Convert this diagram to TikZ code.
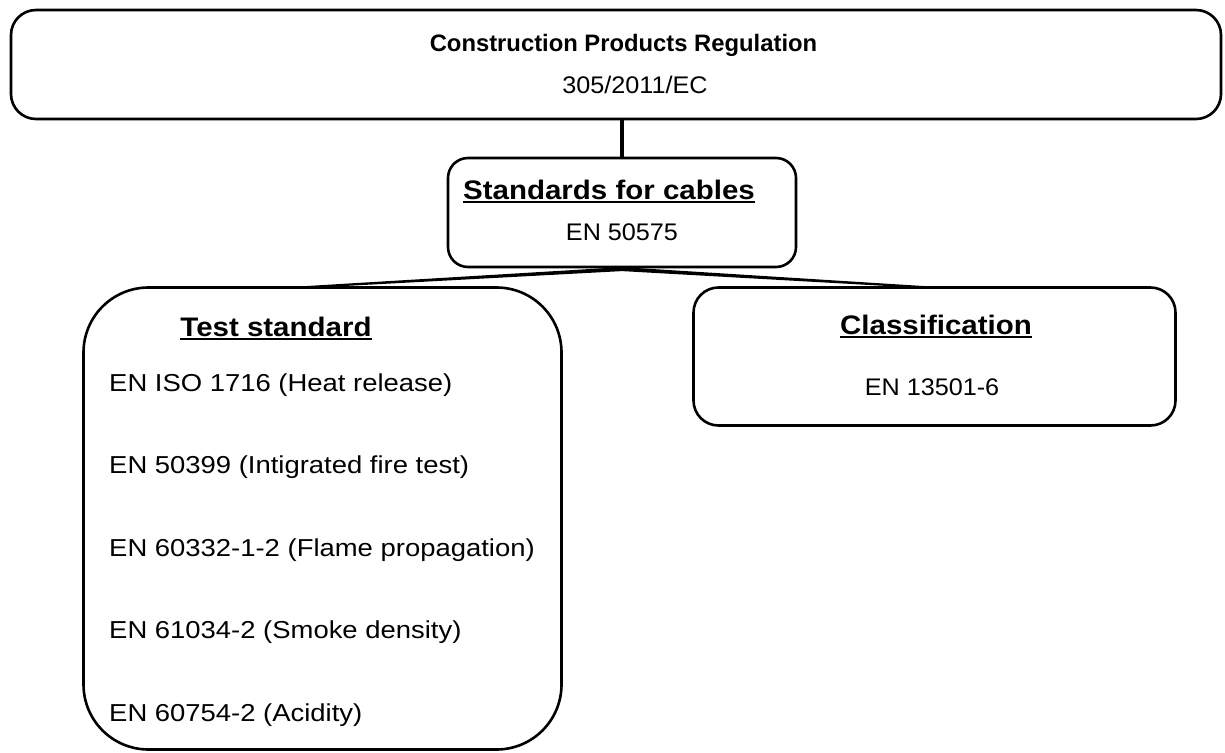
\documentclass[tikz,border=0pt]{standalone}
\usepackage{fontspec}
\setmainfont{Liberation Sans}
\newfontfamily\bodyf[FakeStretch=1.05]{Liberation Sans}
\newfontfamily\itemf[FakeStretch=1.12]{Liberation Sans}
\newfontfamily\headf[FakeStretch=1.1]{Liberation Sans}
\usetikzlibrary{calc}
\begin{document}
\begin{tikzpicture}[x=1pt,y=-1pt,
  box/.style={draw=black, line width=2.6pt, rounded corners=#1, inner sep=0pt, fill=white},
  titletxt/.style={inner sep=0pt, anchor=base, font=\fontsize{23.8}{28}\selectfont\bfseries},
  headtxt/.style={inner sep=0pt, anchor=base, font=\headf\bfseries\fontsize{26.8}{30}\selectfont},
  bodytxt/.style={inner sep=0pt, anchor=base, font=\bodyf\fontsize{24}{28}\selectfont},
  itemtxt/.style={inner sep=0pt, anchor=base west, font=\itemf\fontsize{24.5}{28}\selectfont},
  conn/.style={draw=black, line width=3.2pt},
  uline/.style={draw=black, line width=1.8pt}]
\useasboundingbox (0,0) rectangle (1225,752);
\fill[white] (0,0) rectangle (1225,752);

% boxes
\node[box=25pt, minimum width=1210pt, minimum height=109pt] (crp) at (616,64.5) {};
\node[box=20pt, minimum width=348pt, minimum height=109pt] (std) at (622,212.5) {};
\node[box=65pt, minimum width=478pt, minimum height=462pt] (ts) at (322.5,518.5) {};
\node[box=25pt, minimum width=482pt, minimum height=138pt] (cl) at (934.5,356.5) {};

% connectors
\draw[conn] (std.north |- crp.south) -- (std.north);
\coordinate (cL) at (307,287);
\coordinate (cR) at (923,287);
\fill ($(std.south)+(0,-1.2)$) -- ($(cL)+(0,-1)$) -- ($(cL)+(0,1)$) -- ($(std.south)+(0,2.8)$) -- cycle;
\fill ($(std.south)+(0,-1.2)$) -- ($(cR)+(0,-1)$) -- ($(cR)+(0,1)$) -- ($(std.south)+(0,2.8)$) -- cycle;

% texts
\node[titletxt] (crpT) at (623.5,52) {Construction Products Regulation};
\node[bodytxt] (crpN) at (635,93) {305/2011/EC};

\node[headtxt] (stdT) at (609,199) {Standards for cables};
\draw[uline] ($(stdT.base west)+(0,3.2)$) -- ($(stdT.base east)+(0,3.2)$);
\node[bodytxt] (stdN) at (622,240) {EN 50575};

\node[headtxt] (tsT) at (276,336) {Test standard};
\draw[uline] ($(tsT.base west)+(0,3.2)$) -- ($(tsT.base east)+(0,3.2)$);
\node[itemtxt] (ts1) at (109,391) {EN ISO 1716 (Heat release)};
\node[itemtxt] (ts2) at (109,473.5) {EN 50399 (Intigrated fire test)};
\node[itemtxt] (ts3) at (109,556) {EN 60332-1-2 (Flame propagation)};
\node[itemtxt] (ts4) at (109,638.5) {EN 61034-2 (Smoke density)};
\node[itemtxt] (ts5) at (109,721) {EN 60754-2 (Acidity)};

\node[headtxt] (clT) at (936,334) {Classification};
\draw[uline] ($(clT.base west)+(0,3.2)$) -- ($(clT.base east)+(0,3.2)$);
\node[bodytxt] (clN) at (932,395) {EN 13501-6};
\end{tikzpicture}
\end{document}
